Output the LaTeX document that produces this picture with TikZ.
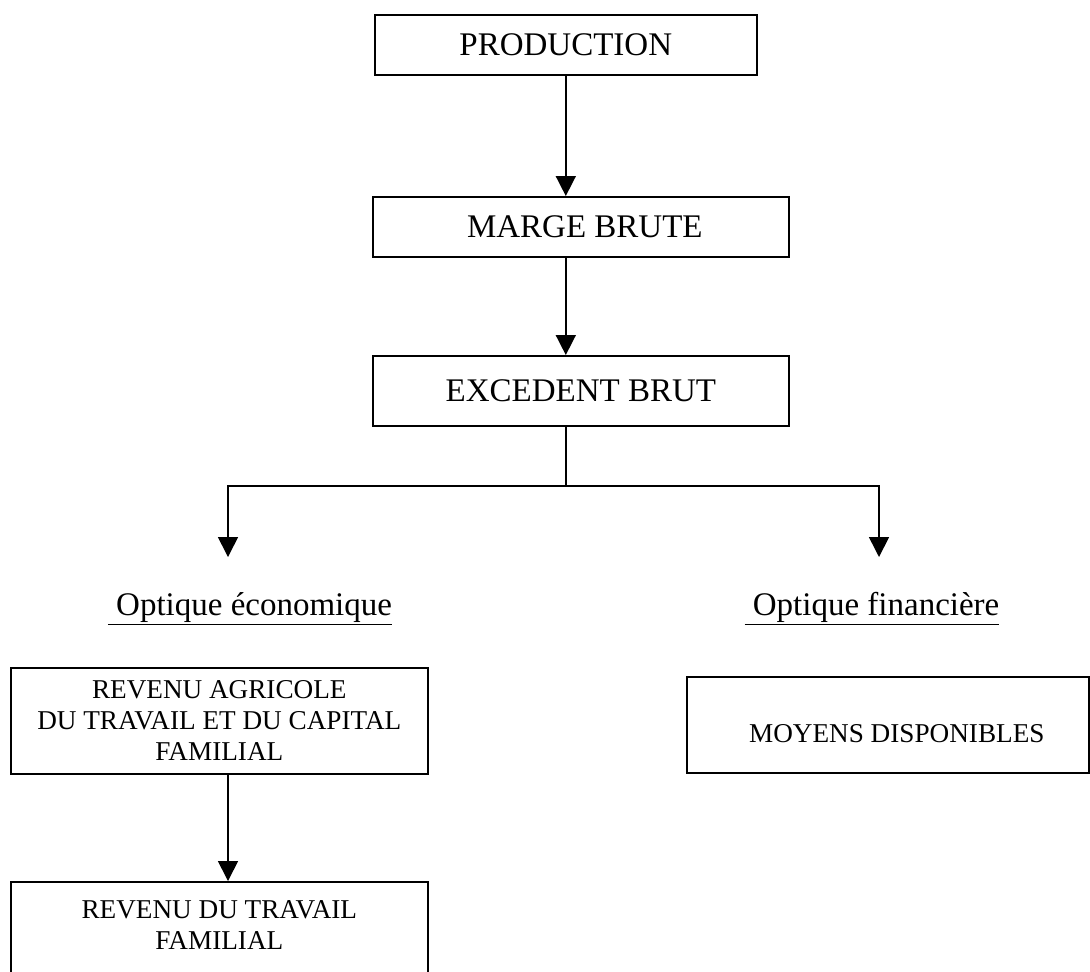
\documentclass[tikz,border=0pt]{standalone}
\usepackage{fontspec}
\setmainfont{Liberation Serif}
\usetikzlibrary{positioning,arrows.meta}

\begin{document}
\begin{tikzpicture}[x=0.5pt,y=-0.5pt,line width=0.8pt,
  arr/.style={-{Triangle[width=10pt,length=10pt]}},
  big/.style={font=\fontsize{16.5}{19}\selectfont},
  small/.style={font=\fontsize{13.6}{15.5}\selectfont, align=center}]
\useasboundingbox (0,0) rectangle (1090,971);
\clip (0,0) rectangle (1090,971);

\node (prod) [rectangle, draw, minimum width=191pt, minimum height=30pt, anchor=north west] at (374,14) {};
\node [big] at (prod.center) {PRODUCTION};

\node (marge) [rectangle, draw, minimum width=208pt, minimum height=30pt, anchor=north west] at (372,196) {};
\node [big, xshift=2pt] at (marge.center) {MARGE BRUTE};

\node (exc) [rectangle, draw, minimum width=208pt, minimum height=35pt, anchor=north west] at (372,355) {};
\node [big] at (exc.center) {EXCEDENT BRUT};

\node (ecolbl) [big, anchor=base] at (250,615) {\underline{\ Optique économique}};
\node (finlbl) [big, anchor=base] at (872,615) {\underline{\ Optique financière}};

\node (rev1) [rectangle, draw, minimum width=208.5pt, minimum height=53pt, anchor=north west] at (10,667) {};
\node [small] at (rev1.center) {REVENU AGRICOLE\\DU TRAVAIL ET DU CAPITAL\\FAMILIAL};

\node (rev2) [rectangle, draw, minimum width=208.5pt, minimum height=60pt, anchor=north west] at (10,881) {};
\node [small, yshift=8.5pt] at (rev2.center) {REVENU DU TRAVAIL\\FAMILIAL};

\node (moy) [rectangle, draw, minimum width=201pt, minimum height=48pt, anchor=north west] at (686,676) {};
\node [small, xshift=4.5pt, yshift=-4.5pt] at (moy.center) {MOYENS DISPONIBLES};

% fleches
\coordinate (split) at (prod.south |- 0,486);
\coordinate (eco) at (228,557);
\coordinate (fin) at (879,557);
\draw[arr] (prod.south) -- (prod.south |- marge.north);
\draw[arr] (prod.south |- marge.south) -- (prod.south |- exc.north);
\draw (prod.south |- exc.south) -- (split);
\draw[arr] (split) -| (eco);
\draw[arr] (split) -| (fin);
\draw[arr] (eco |- rev1.south) -- (eco |- rev2.north);
\end{tikzpicture}
\end{document}
